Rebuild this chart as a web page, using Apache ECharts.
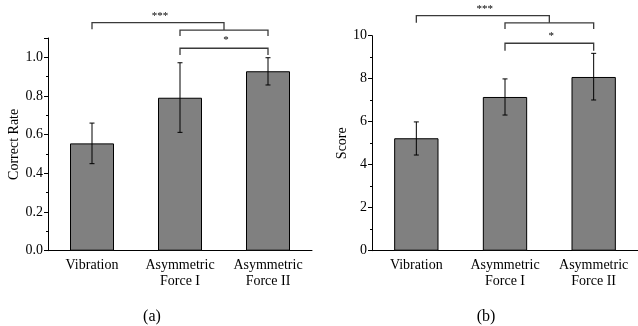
<!DOCTYPE html>
<html>
<head>
<meta charset="utf-8">
<script src="https://cdn.jsdelivr.net/npm/echarts@6/dist/echarts.min.js"></script>
<style>html,body{margin:0;padding:0;background:#fff}#c{width:638px;height:326px}</style>
</head>
<body>
<div id="c"></div>
<script>
// ---- data ----
const categories = ['Vibration', 'Asymmetric\nForce I', 'Asymmetric\nForce II'];
const rateMean = [0.555, 0.791, 0.928];
const rateLow  = [0.450, 0.612, 0.857];
const rateHigh = [0.660, 0.972, 0.998];
const scoreMean = [5.23, 7.15, 8.08];
const scoreLow  = [4.45, 6.31, 7.01];
const scoreHigh = [5.99, 7.99, 9.18];
// brackets: [fromCat, toCat, topValue, leftLegEnd, rightLegEnd, label, labelValue]
const rateBrackets = [
  [0, 1.5, 1.179, 1.145, 1.141, '***', 1.213],
  [1, 2, 1.141, 1.110, 1.110, '', 0],
  [1, 2, 1.047, 1.012, 1.012, '*', 1.088]
];
const scoreBrackets = [
  [0, 1.5, 10.93, 10.60, 10.60, '***', 11.25],
  [1, 2, 10.60, 10.31, 10.31, '', 0],
  [1, 2, 9.65, 9.30, 9.30, '*', 9.98]
];
const panelLabels = ['(a)', '(b)'];
const yNames = ['Correct Rate', 'Score'];

const FONT = 'Liberation Serif';
const chart = echarts.init(document.getElementById('c'), null, {renderer: 'canvas'});

function catX(api, f) {
  const i0 = Math.floor(f), i1 = Math.ceil(f);
  const x0 = api.coord([i0, 0])[0];
  if (i0 === i1) return x0;
  const x1 = api.coord([i1, 0])[0];
  return x0 + (x1 - x0) * (f - i0);
}

function errorSeries(idx, low, high) {
  return {
    type: 'custom', xAxisIndex: idx, yAxisIndex: idx, z: 5,
    data: categories.map((c, k) => [k, low[k], high[k]]),
    encode: {x: 0, y: [1, 2]},
    renderItem: function (params, api) {
      const lo = api.coord([api.value(0), api.value(1)]);
      const hi = api.coord([api.value(0), api.value(2)]);
      const w = 2.5;
      const st = {stroke: '#000', lineWidth: 1};
      return {type: 'group', children: [
        {type: 'line', shape: {x1: lo[0], y1: lo[1], x2: hi[0], y2: hi[1]}, style: st},
        {type: 'line', shape: {x1: lo[0] - w, y1: lo[1], x2: lo[0] + w, y2: lo[1]}, style: st},
        {type: 'line', shape: {x1: hi[0] - w, y1: hi[1], x2: hi[0] + w, y2: hi[1]}, style: st}
      ]};
    }
  };
}

function bracketSeries(idx, brackets) {
  return {
    type: 'custom', xAxisIndex: idx, yAxisIndex: idx, z: 6, clip: false, silent: true,
    data: brackets.map(() => [0, 0]),
    encode: {x: 0, y: 1},
    renderItem: function (params, api) {
      const b = brackets[params.dataIndex];
      const xa = catX(api, b[0]), xb = catX(api, b[1]);
      const yt = api.coord([0, b[2]])[1];
      const yl = api.coord([0, b[3]])[1];
      const yr = api.coord([0, b[4]])[1];
      const st = {stroke: '#3a3a3a', lineWidth: 1.3, fill: null};
      const children = [
        {type: 'polyline', shape: {points: [[xa, yl], [xa, yt], [xb, yt], [xb, yr]]}, style: st}
      ];
      if (b[5]) {
        children.push({type: 'text', x: (xa + xb) / 2 + 2, y: api.coord([0, b[6]])[1],
          style: {text: b[5], font: '11px ' + FONT, fill: '#000', textAlign: 'center', textVerticalAlign: 'middle'}});
      }
      return {type: 'group', children: children};
    }
  };
}

const xAxisBase = (i) => ({
  type: 'category', gridIndex: i, data: categories,
  axisLine: {lineStyle: {color: '#000', width: 1}},
  axisTick: {alignWithLabel: true, length: 4, lineStyle: {color: '#000'}},
  axisLabel: {color: '#000', fontSize: 14, lineHeight: 16, margin: 7, fontFamily: FONT, interval: 0}
});

const option = {
  animation: false,
  backgroundColor: '#fff',
  textStyle: {fontFamily: FONT},
  grid: [
    {left: 48, top: 38, width: 264, height: 212.7},
    {left: 372, top: 35.7, width: 266, height: 215}
  ],
  xAxis: [xAxisBase(0), xAxisBase(1)],
  yAxis: [
    {type: 'value', gridIndex: 0, min: 0, max: 1.1, interval: 0.2,
     name: yNames[0], nameLocation: 'middle', nameGap: 27, nameRotate: 90,
     nameTextStyle: {color: '#000', fontSize: 14, fontFamily: FONT},
     splitLine: {show: false},
     axisLine: {show: true, lineStyle: {color: '#000', width: 1}},
     axisTick: {show: true, length: 4, lineStyle: {color: '#000'}},
     minorTick: {show: true, splitNumber: 2, length: 2, lineStyle: {color: '#000'}},
     axisLabel: {color: '#000', fontSize: 14, margin: 5, fontFamily: FONT, showMaxLabel: false,
       formatter: v => v.toFixed(1)}},
    {type: 'value', gridIndex: 1, min: 0, max: 10, interval: 2,
     name: yNames[1], nameLocation: 'middle', nameGap: 23, nameRotate: 90,
     nameTextStyle: {color: '#000', fontSize: 14, fontFamily: FONT},
     splitLine: {show: false},
     axisLine: {show: true, lineStyle: {color: '#000', width: 1}},
     axisTick: {show: true, length: 4, lineStyle: {color: '#000'}},
     minorTick: {show: true, splitNumber: 2, length: 2, lineStyle: {color: '#000'}},
     axisLabel: {color: '#000', fontSize: 14, margin: 5, fontFamily: FONT}}
  ],
  graphic: [
    {type: 'text', x: 152, y: 317, style: {text: panelLabels[0], font: '16px ' + FONT, fill: '#000', textAlign: 'center', textVerticalAlign: 'middle'}},
    {type: 'text', x: 486, y: 317, style: {text: panelLabels[1], font: '16px ' + FONT, fill: '#000', textAlign: 'center', textVerticalAlign: 'middle'}}
  ],
  series: [
    {type: 'bar', xAxisIndex: 0, yAxisIndex: 0, data: rateMean, barWidth: '50%',
     itemStyle: {color: '#808080', borderColor: '#000', borderWidth: 1}},
    {type: 'bar', xAxisIndex: 1, yAxisIndex: 1, data: scoreMean, barWidth: '50%',
     itemStyle: {color: '#808080', borderColor: '#000', borderWidth: 1}},
    errorSeries(0, rateLow, rateHigh),
    errorSeries(1, scoreLow, scoreHigh),
    bracketSeries(0, rateBrackets),
    bracketSeries(1, scoreBrackets)
  ]
};
chart.setOption(option);
</script>
</body>
</html>
